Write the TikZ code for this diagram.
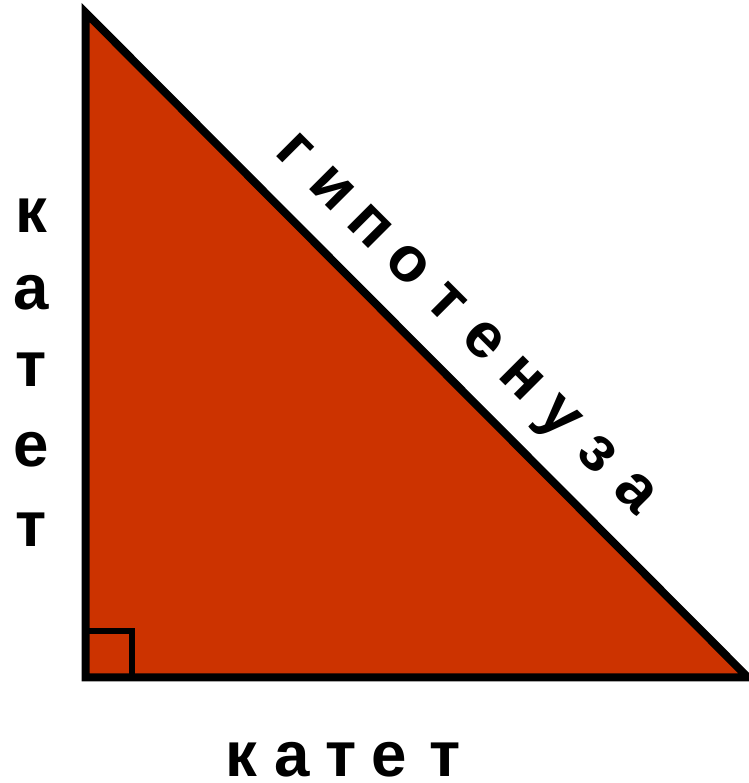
\documentclass[tikz,border=0pt]{standalone}
\usepackage{fontspec}
\setmainfont{Liberation Sans}
\definecolor{trifill}{HTML}{CC3300}
\begin{document}
\begin{tikzpicture}[x=1pt,y=1pt,
  lbl/.style={inner sep=0pt,outer sep=0pt,anchor=base,font=\fontsize{63.6}{70}\selectfont\bfseries},
  tri/.style={draw=black,fill=trifill,line width=8pt,line join=miter},
  rightmark/.style={draw=black,line width=6pt}]
\useasboundingbox (0,0) rectangle (748,783);
\coordinate (A) at (85.5,770.5);
\coordinate (B) at (85.5,105.5);
\coordinate (C) at (748,105.5);
\draw[tri] (A) -- (B) -- (C) -- cycle;
\coordinate (S1) at (85.5,151.5);
\coordinate (S2) at (132,151.5);
\coordinate (S3) at (132,105.5);
\draw[rightmark] (S1) -- (S2) -- (S3);
% left leg label
\node[lbl] (l1) at (31,550) {к};
\node[lbl] (l2) at (31,473) {а};
\node[lbl] (l3) at (31,396) {т};
\node[lbl] (l4) at (31,316) {е};
\node[lbl] (l5) at (31,236) {т};
% bottom leg label
\node[lbl] (b1) at (241,6) {к};
\node[lbl] (b2) at (292,6) {а};
\node[lbl] (b3) at (341,6) {т};
\node[lbl] (b4) at (389,6) {е};
\node[lbl] (b5) at (445,6) {т};
% hypotenuse label
\foreach \c [count=\i from 0] in {г,и,п,о,т,е,н,у,з,а}
  \node[lbl,rotate=-45] (h\i) at ({282.5+37.9*\i},{620.5-37.9*\i}) {\c};
\end{tikzpicture}
\end{document}
